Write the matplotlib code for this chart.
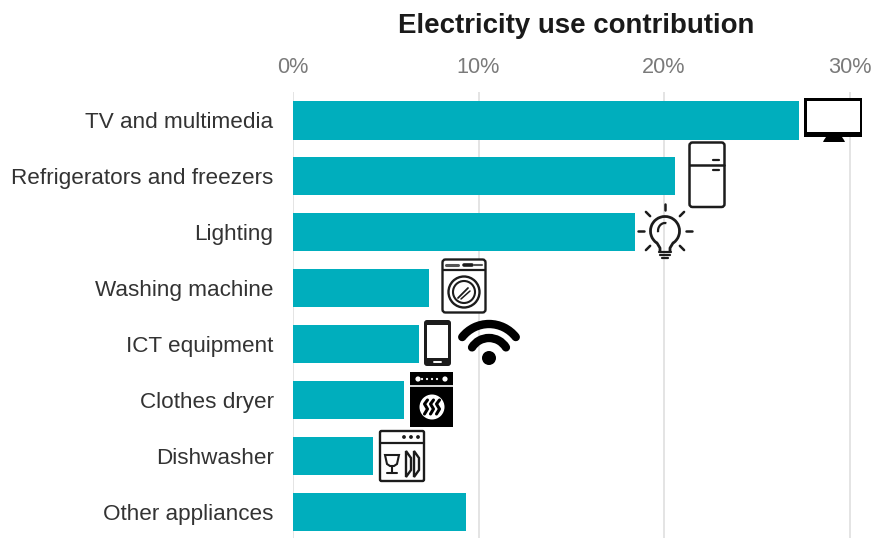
import matplotlib
matplotlib.use('Agg')
import matplotlib.pyplot as plt
from matplotlib.patches import Rectangle, FancyBboxPatch, Circle, Arc, Polygon
import numpy as np

categories = ['TV and multimedia', 'Refrigerators and freezers', 'Lighting', 'Washing machine',
              'ICT equipment', 'Clothes dryer', 'Dishwasher', 'Other appliances']
values = [27.3, 20.6, 18.45, 7.35, 6.8, 6.0, 4.3, 9.3]
ticks = [0, 10, 20, 30]
tick_labels = ['0%', '10%', '20%', '30%']

W, H = 874, 538
plt.rcParams['font.family'] = ['Liberation Sans', 'DejaVu Sans']

fig = plt.figure(figsize=(W / 100, H / 100), dpi=100)

# main axes placed so the gridlines land where they are in the picture
ax = fig.add_axes([293 / W, 0, (866 - 293) / W, (538 - 92) / H])
ax.barh(range(len(values)), values, height=0.68, color='#00AEBD', zorder=2)
ax.set_xlim(0, (866 - 293) / 18.55)
ax.set_ylim((538 - 120.5) / 55.9, (92 - 120.5) / 55.9)
ax.set_xticks(ticks)
ax.set_xticklabels(tick_labels, fontsize=15.6, color='#7a7a7a')
ax.xaxis.tick_top()
ax.set_yticks(range(len(categories)))
ax.set_yticklabels(categories, fontsize=16.2, color='#333333')
ax.tick_params(axis='both', length=0)
ax.tick_params(axis='y', pad=14)
ax.tick_params(axis='x', pad=10)
ax.grid(axis='x', color='#dcdcdc', linewidth=1.1, zorder=1)
ax.set_axisbelow(True)
for s in ax.spines.values():
    s.set_visible(False)

fig.text(576 / W, 1 - 26 / H, 'Electricity use contribution', fontsize=19.9, fontweight='bold',
         color='#1a1a1a', ha='center', va='center')

# overlay in pixel coordinates for the appliance icons
ov = fig.add_axes([0, 0, 1, 1])
ov.set_xlim(0, W)
ov.set_ylim(H, 0)
ov.axis('off')
ov.patch.set_alpha(0)

INK = '#1c1c1c'


def box(x0, y0, x1, y1, lw=2, fc='white', ec=INK, r=2):
    ov.add_patch(FancyBboxPatch((x0 + r, y0 + r), x1 - x0 - 2 * r, y1 - y0 - 2 * r,
                                boxstyle=f'round,pad={r},rounding_size={r}', fc=fc, ec=ec, lw=lw))


def line(xs, ys, lw=1.5, color=INK):
    ov.plot(xs, ys, color=color, lw=lw, solid_capstyle='round')


# TV
ov.add_patch(Rectangle((804, 98), 58, 39, fc='black', ec='none'))
ov.add_patch(Rectangle((806.5, 100.5), 53, 31, fc='white', ec='none'))
ov.add_patch(Polygon([[826, 137], [842, 137], [844, 140], [845, 142], [823, 142], [824, 140]], fc='black', ec='none'))

# fridge
box(689.5, 142.5, 724.5, 207, lw=1.8, r=3)
line([690, 724], [164.5, 164.5], lw=1.8)
line([713, 719], [160, 160], lw=1.6)
line([713, 719], [169.5, 169.5], lw=1.6)

# bulb
cx, cy = 665, 231
ov.add_patch(Arc((cx, cy), 29, 29, theta1=125, theta2=55, color=INK, lw=2.0))
line([cx - 8, cx - 5, cx - 5], [cy + 12, cy + 17, cy + 20], lw=2.0)
line([cx + 8, cx + 5, cx + 5], [cy + 12, cy + 17, cy + 20], lw=2.0)
ov.add_patch(Arc((cx, cy), 14, 16, theta1=170, theta2=280, color=INK, lw=1.6))
line([cx - 6, cx + 6], [cy + 21, cy + 21], lw=1.6)
line([cx - 5, cx + 5], [cy + 24, cy + 24], lw=1.6)
line([cx - 3, cx + 3], [cy + 27, cy + 27], lw=1.6)
for a in [0, 45, 90, 135, 180, 225, 315]:
    t = np.deg2rad(a)
    line([cx + 21 * np.cos(t), cx + 27 * np.cos(t)], [cy - 21 * np.sin(t), cy - 27 * np.sin(t)], lw=1.8)

# washing machine
box(442.5, 259.5, 485.5, 312.5, lw=1.7, r=3)
line([443, 485], [270, 270], lw=1.6)
line([446, 458], [265, 265], lw=2.2, color='#555555')
line([464, 472], [265, 265], lw=2.6)
line([474, 482], [265, 265], lw=1.5, color='#555555')
ov.add_patch(Circle((464, 292), 15.5, fc='white', ec=INK, lw=1.7))
ov.add_patch(Circle((464, 292), 11, fc='white', ec=INK, lw=1.5))
line([458, 468], [298, 288], lw=1.3)
line([461, 470], [299, 291], lw=1.1)

# phone
box(424, 320, 451, 366, lw=0, fc=INK, r=3)
ov.add_patch(Rectangle((427, 324.5), 21, 33.5, fc='white', ec='none'))
line([434, 441], [362, 362], lw=1.4, color='white')

# wifi, angles are measured on the flipped y axis of the overlay
wx, wy = 489, 358
ov.add_patch(Circle((wx, wy), 7, fc='black', ec='none'))
ov.add_patch(Arc((wx, wy), 68, 68, theta1=218, theta2=322, color='black', lw=6.0, capstyle='round'))
ov.add_patch(Arc((wx, wy), 40, 40, theta1=212, theta2=328, color='black', lw=6.0, capstyle='round'))

# dryer
ov.add_patch(Rectangle((410, 372), 43, 55, fc='black', ec='none'))
line([410, 453], [386, 386], lw=1.2, color='white')
ov.add_patch(Circle((418, 379), 2.6, fc='white', ec='none'))
ov.add_patch(Circle((445, 379), 2.6, fc='white', ec='none'))
for dx in [-5, 0, 5, 10]:
    ov.add_patch(Circle((427 + dx, 379), 1.1, fc='white', ec='none'))
ov.add_patch(Circle((432, 407), 12.5, fc='white', ec='none'))
for dx in [-6, 0, 6]:
    line([432 + dx + 1.5, 432 + dx - 1.5, 432 + dx + 1.5, 432 + dx - 1.5],
         [400, 404, 409, 414], lw=2.2, color='black')

# dishwasher
box(380, 431, 424, 481, lw=1.7, r=1.5)
line([380, 424], [442.5, 442.5], lw=1.6)
for px in [404, 411, 418]:
    ov.add_patch(Circle((px, 437), 1.9, fc=INK, ec='none'))
ov.add_patch(Polygon([[385, 455], [399, 455], [397, 464], [394, 466], [390, 466], [387, 464]], fc='white', ec=INK, lw=1.5))
line([392, 392], [466, 473], lw=1.5)
line([387, 397], [473, 473], lw=1.5)
ov.add_patch(Polygon([[406, 451], [411, 458], [411, 470], [406, 477]], fc='white', ec=INK, lw=1.7))
ov.add_patch(Polygon([[414, 451], [419, 458], [419, 470], [414, 477]], fc='white', ec=INK, lw=1.7))

fig.savefig('out.png', dpi=100)
